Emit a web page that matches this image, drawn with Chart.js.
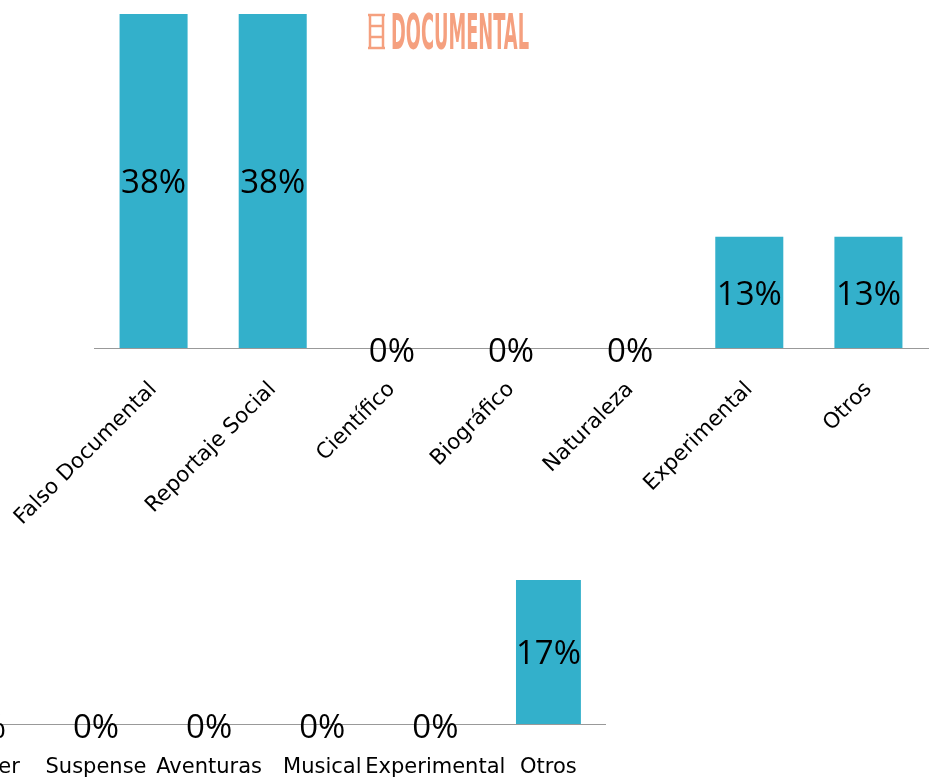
<!DOCTYPE html>
<html><head><meta charset="utf-8">
<script src="https://cdn.jsdelivr.net/npm/chart.js@4"></script>
<style>
html,body{margin:0;padding:0;background:#fff;overflow:hidden;width:938px;height:778px;}
#c1wrap{position:absolute;left:-60px;top:0;width:998px;height:560px;}
#c2wrap{position:absolute;left:-77px;top:570px;width:691px;height:208px;}
#logo{position:absolute;left:366px;top:10px;}
</style></head><body>
<div id="c1wrap"><canvas id="c1"></canvas></div>
<div id="c2wrap"><canvas id="c2"></canvas></div>
<svg id="logo" width="170" height="44" viewBox="0 0 170 44">
  <g stroke="#F5A07F" stroke-width="2.5" fill="none">
    <line x1="4" y1="4" x2="4" y2="39"/>
    <line x1="17" y1="4" x2="17" y2="39"/>
    <line x1="2" y1="5" x2="19" y2="5"/>
    <line x1="4" y1="16" x2="17" y2="16"/>
    <line x1="4" y1="27" x2="17" y2="27"/>
    <line x1="2" y1="38" x2="19" y2="38"/>
  </g>
  <text x="25" y="39" font-family="DejaVu Sans Condensed, DejaVu Sans" font-weight="bold" font-size="49" fill="#F5A07F" textLength="138" lengthAdjust="spacingAndGlyphs">DOCUMENTAL</text>
</svg>
<script>
const topCategories = ['Falso Documental','Reportaje Social','Científico','Biográfico','Naturaleza','Experimental','Otros'];
const topValues = [37.5, 37.5, 0, 0, 0, 12.5, 12.5];
const bottomCategories = ['Thriller','Suspense','Aventuras','Musical','Experimental','Otros'];
const bottomValues = [0, 0, 0, 0, 0, 16.7];

const barColor = '#33B0CB';

const valueLabels = {
  id: 'valueLabels',
  afterDatasetsDraw(chart) {
    const ctx = chart.ctx;
    const meta = chart.getDatasetMeta(0);
    const data = chart.data.datasets[0].data;
    ctx.save();
    ctx.font = '33px "Open Sans"';
    ctx.fillStyle = '#000';
    ctx.textAlign = 'center';
    ctx.textBaseline = 'middle';
    meta.data.forEach((bar, i) => {
      const v = data[i];
      const y = v > 0 ? (bar.y + bar.base) / 2 + 3 : bar.base + 5;
      ctx.fillText(Math.round(v) + '%', bar.x, y);
    });
    ctx.restore();
  }
};

new Chart(document.getElementById('c1'), {
  type: 'bar',
  data: { labels: topCategories, datasets: [{ data: topValues, backgroundColor: barColor, barPercentage: 0.571, categoryPercentage: 1 }] },
  options: {
    responsive: true, maintainAspectRatio: false, animation: false,
    layout: { padding: { left: 154, right: 10, top: 14, bottom: 0 } },
    plugins: { legend: { display: false }, tooltip: { enabled: false } },
    scales: {
      x: {
        grid: { display: false },
        border: { display: true, color: '#999', width: 1 },
        ticks: { color: '#000', font: { family: 'DejaVu Sans', size: 21.5 }, minRotation: 45, maxRotation: 45, autoSkip: false, padding: 21 },
        afterFit(s) { s.height = 212; }
      },
      y: { display: false, min: 0, max: 37.5 }
    }
  },
  plugins: [valueLabels]
});

new Chart(document.getElementById('c2'), {
  type: 'bar',
  data: { labels: bottomCategories, datasets: [{ data: bottomValues, backgroundColor: barColor, barPercentage: 0.574, categoryPercentage: 1 }] },
  options: {
    responsive: true, maintainAspectRatio: false, animation: false,
    layout: { padding: { left: 0, right: 9, top: 10, bottom: 0 } },
    plugins: { legend: { display: false }, tooltip: { enabled: false } },
    scales: {
      x: {
        grid: { display: false },
        border: { display: true, color: '#999', width: 1 },
        ticks: { color: '#000', font: { family: 'DejaVu Sans', size: 21 }, minRotation: 0, maxRotation: 0, autoSkip: false, padding: 23 },
        afterFit(s) { s.height = 54; }
      },
      y: { display: false, min: 0, max: 16.7 }
    }
  },
  plugins: [valueLabels]
});
</script>
</body></html>
